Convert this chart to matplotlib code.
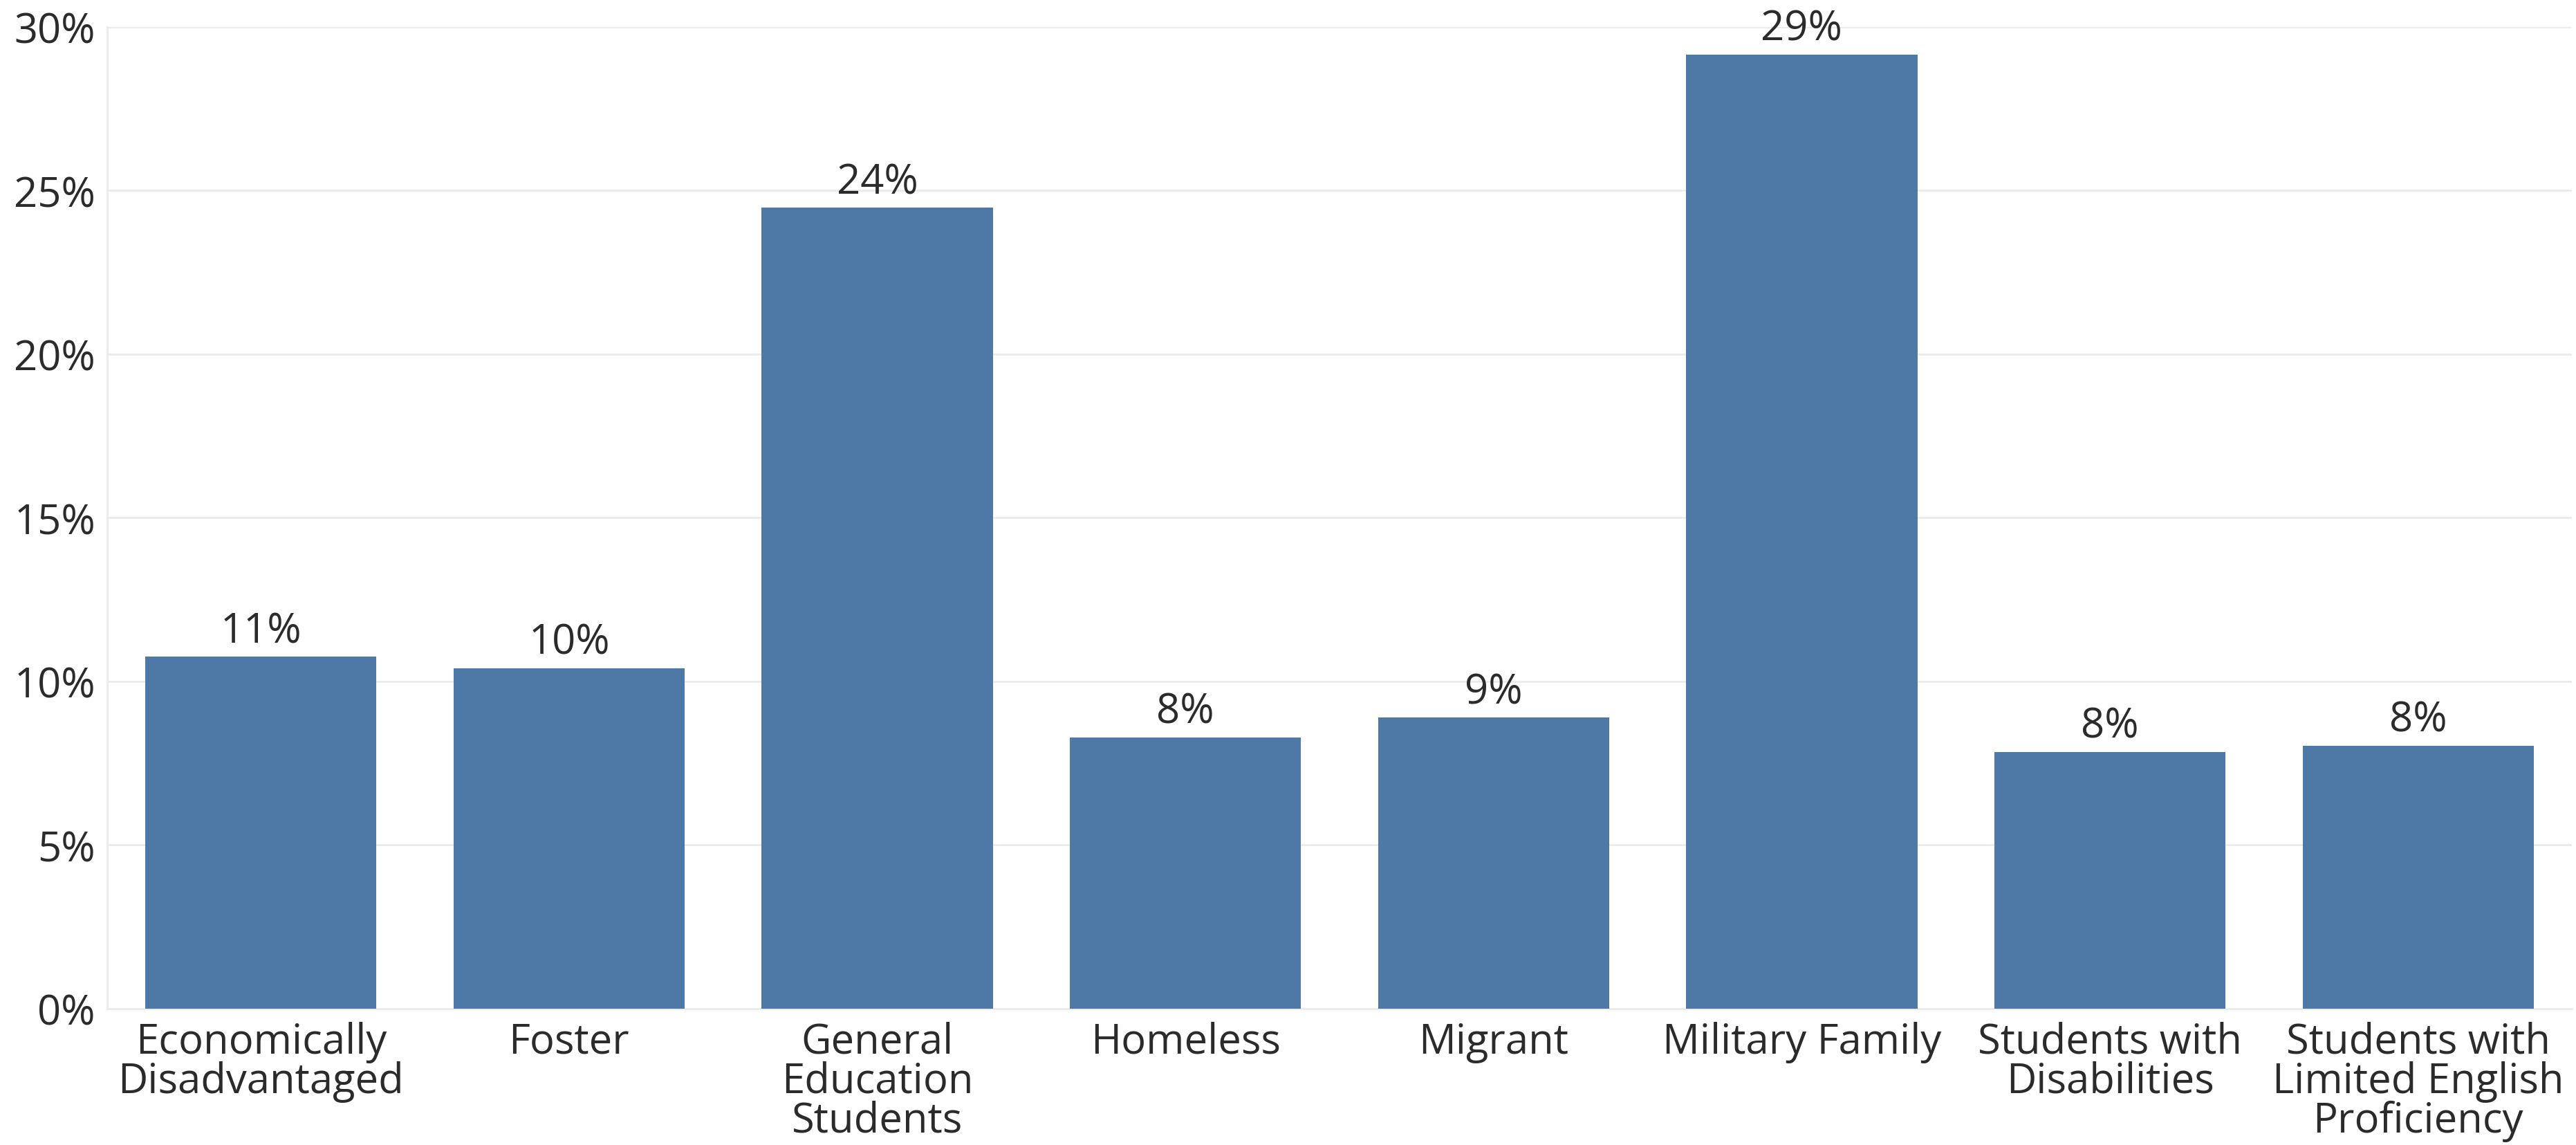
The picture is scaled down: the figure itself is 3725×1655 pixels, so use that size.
import matplotlib
matplotlib.use("Agg")
import matplotlib.pyplot as plt
from matplotlib.ticker import FuncFormatter

categories = ["Economically\nDisadvantaged", "Foster", "General\nEducation\nStudents",
              "Homeless", "Migrant", "Military Family", "Students with\nDisabilities",
              "Students with\nLimited English\nProficiency"]
values = [10.75, 10.40, 24.47, 8.29, 8.89, 29.15, 7.84, 8.04]
labels = ["11%", "10%", "24%", "8%", "9%", "29%", "8%", "8%"]
yticks = [0, 5, 10, 15, 20, 25, 30]

plt.rcParams['font.family'] = ['Open Sans', 'DejaVu Sans']
text_color = "#2b2b2b"
fs = 43

fig = plt.figure(figsize=(37.25, 16.56), dpi=100)
ax = fig.add_axes([0.0415, 0.119, 0.957, 0.857])

x = list(range(len(categories)))
ax.bar(x, values, width=0.75, color="#4e79a7", zorder=3)
for xi, v, lab in zip(x, values, labels):
    ax.text(xi, v + 0.15, lab, ha="center", va="bottom", fontsize=fs, color=text_color, zorder=4)

ax.set_xlim(-0.5, len(categories) - 0.5)
ax.set_ylim(0, 30)
ax.set_yticks(yticks)
ax.yaxis.set_major_formatter(FuncFormatter(lambda v, p: f"{v:.0f}%"))
ax.set_xticks(x)
ax.set_xticklabels(categories, fontsize=fs, color=text_color, linespacing=0.93)
for t in ax.get_yticklabels():
    t.set_fontsize(fs)
    t.set_color(text_color)

ax.grid(axis="y", color="#ebebeb", linewidth=2, zorder=0)
ax.tick_params(axis="y", length=0, pad=12)
ax.tick_params(axis="x", length=0, pad=13)
for s in ["top", "right"]:
    ax.spines[s].set_visible(False)
ax.spines["left"].set_color("#ebebeb")
ax.spines["left"].set_linewidth(2)
ax.spines["bottom"].set_color("#ebebeb")
ax.spines["bottom"].set_linewidth(2)

fig.savefig("out.png", dpi=100, facecolor="white")
